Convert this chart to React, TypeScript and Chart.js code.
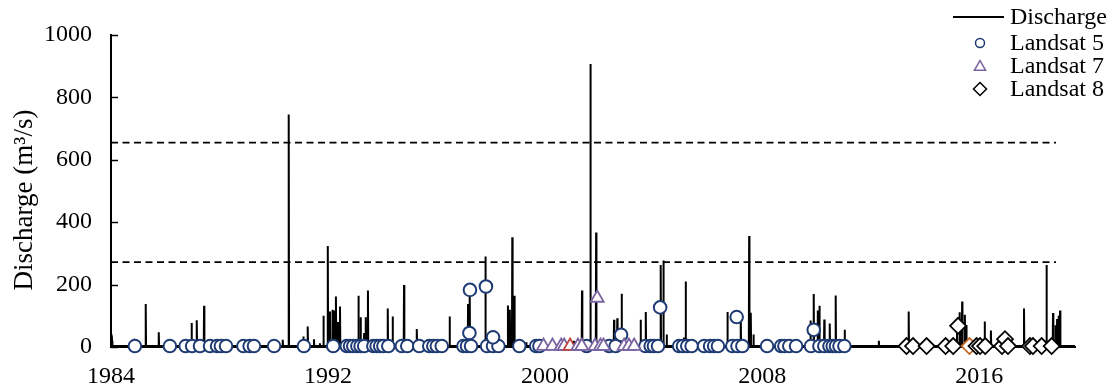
import React, { useEffect, useRef } from 'react';
import { Chart, registerables } from 'chart.js';

Chart.register(...registerables);

// ---------------- DATA ----------------
const xTickValues = [1984, 1992, 2000, 2008, 2016];
const yTickValues = [0, 200, 400, 600, 800, 1000];
const xMin = 1984;
const xMax = 2019.53;

// Discharge (m3/s): base flow plus flood peaks
const baseFlow = 3;
const spikeYears = [
  1984.04, 1984.85, 1985.28, 1985.76, 1986.97, 1987.16, 1987.43,
  1990.33, 1990.55, 1991.09, 1991.25, 1991.48, 1991.7, 1991.83, 1991.99,
  1992.07, 1992.16, 1992.23, 1992.29, 1992.37, 1992.44,
  1993.12, 1993.2, 1993.33, 1993.39, 1993.47, 1994.2, 1994.38, 1994.8, 1995.27,
  1996.48, 1997.16, 1997.22, 1997.8, 1998.63, 1998.7, 1998.79, 1998.87, 1999.3,
  2001.06, 2001.36, 2001.67, 2001.88, 2002.54, 2002.66, 2002.82,
  2003.52, 2003.71, 2004.26, 2004.36, 2004.48, 2005.12, 2005.18,
  2006.72, 2007.21, 2007.52, 2007.58, 2007.68,
  2009.78, 2009.9, 2010.05, 2010.11, 2010.29, 2010.49, 2010.71, 2011.04,
  2012.3, 2013.4, 2015.18, 2015.28, 2015.37, 2015.47, 2015.52,
  2016.2, 2016.43, 2017.65, 2018.48, 2018.72, 2018.81, 2018.87, 2018.93, 2018.98,
];
const spikeValues = [
  20, 10, 138, 47, 77, 86, 132,
  23, 745, 34, 66, 25, 12, 100, 324,
  114, 119, 117, 162, 80, 130,
  164, 95, 45, 95, 181, 123, 98, 199, 58,
  98, 138, 200, 290, 133, 119, 352, 164, 15,
  20, 181, 907, 367, 87, 92, 171,
  87, 112, 263, 277, 40, 30, 210,
  112, 107, 356, 110, 40,
  85, 170, 117, 132, 88, 75, 165, 55,
  20, 114, 60, 111, 146, 103, 70,
  82, 53, 123, 263, 109, 70, 90, 100, 117,
];

// Landsat 5 acquisitions
const landsat5Years = [
  1984.88, 1986.17, 1986.75, 1986.99, 1987.28, 1987.65, 1987.91, 1988.05, 1988.24,
  1988.88, 1989.11, 1989.27, 1990.01, 1991.11, 1992.19, 1992.69, 1992.81, 1992.93,
  1993.08, 1993.2, 1993.33, 1993.67, 1993.79, 1993.92, 1994.04, 1994.22, 1994.72,
  1994.92, 1995.36, 1995.73, 1995.88, 1996.01, 1996.19, 1996.99, 1997.12, 1997.27,
  1997.23, 1997.21, 1997.82, 1997.86, 1998.08, 1998.28, 1998.08, 1999.05, 1999.67,
  1999.79, 2001.53, 2002.36, 2002.6, 2002.8, 2003.7, 2003.89, 2004.01, 2004.16,
  2004.24, 2004.94, 2005.08, 2005.24, 2005.4, 2005.86, 2006.08, 2006.23, 2006.37,
  2006.9, 2007.06, 2007.09, 2007.27, 2008.18, 2008.7, 2008.82, 2009.0, 2009.25,
  2009.8, 2009.9, 2010.11, 2010.29, 2010.48, 2010.6, 2010.72, 2010.85, 2011.03,
];
const landsat5Values = [
  3, 3, 3, 3, 3, 3, 3, 3, 3,
  3, 3, 3, 3, 3, 3, 3, 3, 3,
  3, 3, 3, 3, 3, 3, 3, 3, 3,
  3, 3, 3, 3, 3, 3, 3, 3, 3,
  183, 45, 194, 3, 3, 3, 31, 3, 3,
  3, 3, 3, 3, 39, 3, 3, 3, 3,
  127, 3, 3, 3, 3, 3, 3, 3, 3,
  3, 96, 3, 3, 3, 3, 3, 3, 3,
  3, 55, 3, 3, 3, 3, 3, 3, 3,
];

// Landsat 7 acquisitions
const landsat7Years = [
  1999.94, 2000.27, 2000.59, 2000.7, 2000.92, 2001.21, 2001.35,
  2001.84, 2001.92, 2002.04, 2002.15, 2002.91, 2003.09, 2003.28,
];
const landsat7Values = [3, 3, 3, 3, 3, 3, 3, 3, 157, 3, 3, 3, 3, 3];
const landsat7HighlightYear = 2000.92;

// Landsat 8 acquisitions
const landsat8Years = [
  2013.32, 2013.56, 2014.06, 2014.76, 2015.04, 2015.22, 2015.64, 2015.9, 2016.03,
  2016.22, 2016.84, 2016.95, 2017.06, 2017.87, 2017.98, 2018.3, 2018.67,
];
const landsat8Values = [3, 3, 3, 3, 3, 68, 3, 3, 3, 3, 3, 25, 3, 3, 3, 3, 3];
const landsat8HighlightYear = 2015.64;

// Reference thresholds (dashed lines)
const thresholdValues = [655, 272];
const thresholdStartYear = 1984;
const thresholdEndYear = 2018.83;

const legendLabels = ['Discharge', 'Landsat 5', 'Landsat 7', 'Landsat 8'];
const yAxisTitle = 'Discharge (m³/s)';

// ---------------- STYLE ----------------
const FONT = '"Liberation Serif", "Times New Roman", serif';
const L5_COLOR = '#1F3B73';
const L7_COLOR = '#7B64A2';
const L7_HIGHLIGHT = '#C0443C';
const L8_COLOR = '#000000';
const L8_HIGHLIGHT = '#C0651E';

function buildDischarge() {
  const order = spikeYears.map((_, i) => i).sort((a, b) => spikeYears[a] - spikeYears[b]);
  const pts: { x: number; y: number }[] = [{ x: xMin, y: baseFlow }];
  const w = 0.012;
  for (const i of order) {
    pts.push({ x: spikeYears[i] - w, y: baseFlow });
    pts.push({ x: spikeYears[i], y: spikeValues[i] });
    pts.push({ x: spikeYears[i] + w, y: baseFlow });
  }
  pts.push({ x: xMax, y: baseFlow });
  return pts;
}

function toPoints(xs: number[], ys: number[]) {
  return xs.map((x, i) => ({ x, y: ys[i] }));
}

function drawMarker(ctx: CanvasRenderingContext2D, style: string, x: number, y: number, r: number, stroke: string) {
  ctx.save();
  ctx.beginPath();
  if (style === 'circle') {
    ctx.arc(x, y, r, 0, Math.PI * 2);
  } else if (style === 'triangle') {
    for (let k = 0; k < 3; k++) {
      const a = (k * 2 * Math.PI) / 3;
      const px = x + Math.sin(a) * r;
      const py = y - Math.cos(a) * r;
      if (k === 0) ctx.moveTo(px, py);
      else ctx.lineTo(px, py);
    }
    ctx.closePath();
  } else {
    ctx.moveTo(x, y - r);
    ctx.lineTo(x + r, y);
    ctx.lineTo(x, y + r);
    ctx.lineTo(x - r, y);
    ctx.closePath();
  }
  ctx.fillStyle = '#fff';
  ctx.fill();
  ctx.lineWidth = 1.5;
  ctx.strokeStyle = stroke;
  ctx.stroke();
  ctx.restore();
}

const decorPlugin = {
  id: 'decor',
  afterDraw(chart: any) {
    const ctx: CanvasRenderingContext2D = chart.ctx;
    const { left } = chart.chartArea;
    const yScale = chart.scales.y;
    ctx.save();
    // inward tick marks on y axis
    ctx.strokeStyle = '#000';
    ctx.lineWidth = 1.5;
    for (const v of yTickValues) {
      const py = Math.round(yScale.getPixelForValue(v)) + 0.5;
      ctx.beginPath();
      ctx.moveTo(left, py);
      ctx.lineTo(left + 7, py);
      ctx.stroke();
    }
    // y-axis title
    ctx.save();
    ctx.translate(25, 200);
    ctx.rotate(-Math.PI / 2);
    ctx.font = `27px ${FONT}`;
    ctx.fillStyle = '#000';
    ctx.textAlign = 'center';
    ctx.textBaseline = 'middle';
    ctx.fillText(yAxisTitle, 0, 0);
    ctx.restore();

    // legend
    const rowsY = [17, 43, 66, 89];
    const textX = 1010;
    const markX = 980;
    ctx.font = `24px ${FONT}`;
    ctx.fillStyle = '#000';
    ctx.textAlign = 'left';
    ctx.textBaseline = 'middle';
    ctx.strokeStyle = '#000';
    ctx.lineWidth = 2;
    ctx.beginPath();
    ctx.moveTo(953, rowsY[0]);
    ctx.lineTo(1004, rowsY[0]);
    ctx.stroke();
    drawMarker(ctx, 'circle', markX, rowsY[1], 4.5, L5_COLOR);
    drawMarker(ctx, 'triangle', markX, rowsY[2] + 1, 6.5, L7_COLOR);
    drawMarker(ctx, 'diamond', markX, rowsY[3], 6.5, L8_COLOR);
    legendLabels.forEach((t, i) => ctx.fillText(t, textX, rowsY[i] + 1));
    ctx.restore();
  },
};

export default function App() {
  const canvasRef = useRef<HTMLCanvasElement | null>(null);

  useEffect(() => {
    document.body.style.margin = '0';
    const canvas = canvasRef.current;
    if (!canvas) return;
    Chart.defaults.font.family = FONT;
    Chart.defaults.color = '#000';

    const thresholdDatasets = thresholdValues.map((v) => ({
      type: 'scatter' as const,
      label: 'threshold',
      data: [
        { x: thresholdStartYear, y: v },
        { x: thresholdEndYear, y: v },
      ],
      showLine: true,
      borderColor: '#000',
      borderWidth: 1.6,
      borderDash: [7, 4.5],
      pointRadius: 0,
      order: 10,
    }));

    const chart = new Chart(canvas, {
      type: 'scatter',
      data: {
        datasets: [
          {
            label: 'Landsat 8',
            data: toPoints(landsat8Years, landsat8Values),
            pointStyle: 'rectRot',
            pointRadius: 8,
            pointBorderWidth: 1.8,
            pointBackgroundColor: '#fff',
            pointBorderColor: landsat8Years.map((y) => (y === landsat8HighlightYear ? L8_HIGHLIGHT : L8_COLOR)),
            clip: false,
            order: 0,
          },
          {
            label: 'Landsat 7',
            data: toPoints(landsat7Years, landsat7Values),
            pointStyle: 'triangle',
            pointRadius: 7.5,
            pointBorderWidth: 1.8,
            pointBackgroundColor: '#fff',
            pointBorderColor: landsat7Years.map((y) => (y === landsat7HighlightYear ? L7_HIGHLIGHT : L7_COLOR)),
            clip: false,
            order: 1,
          },
          {
            label: 'Landsat 5',
            data: toPoints(landsat5Years, landsat5Values),
            pointStyle: 'circle',
            pointRadius: 6.3,
            pointBorderWidth: 2,
            pointBackgroundColor: '#fff',
            pointBorderColor: L5_COLOR,
            clip: false,
            order: 2,
          },
          {
            label: 'Discharge',
            data: buildDischarge(),
            showLine: true,
            borderColor: '#000',
            borderWidth: 2,
            pointRadius: 0,
            clip: false,
            order: 5,
          },
          ...thresholdDatasets,
        ] as any,
      },
      options: {
        animation: false,
        responsive: false,
        devicePixelRatio: 1,
        layout: { padding: { left: 0, right: 37, top: 35, bottom: 0 } },
        plugins: {
          legend: { display: false },
          tooltip: { enabled: false },
        },
        scales: {
          x: {
            type: 'linear',
            min: xMin,
            max: xMax,
            grid: { display: false, drawTicks: false },
            border: { display: true, color: '#000', width: 2 },
            afterBuildTicks: (scale: any) => {
              scale.ticks = xTickValues.map((v) => ({ value: v }));
            },
            afterFit: (scale: any) => {
              scale.height = 40;
            },
            ticks: {
              font: { size: 24, family: FONT },
              color: '#000',
              padding: 15,
              maxRotation: 0,
              autoSkip: false,
              callback: (v: any) => String(v),
            },
          },
          y: {
            type: 'linear',
            min: 0,
            max: 1000,
            grid: { display: false, drawTicks: false },
            border: { display: true, color: '#000', width: 2 },
            afterBuildTicks: (scale: any) => {
              scale.ticks = yTickValues.map((v) => ({ value: v }));
            },
            afterFit: (scale: any) => {
              scale.width = 111;
            },
            ticks: {
              font: { size: 24, family: FONT },
              color: '#000',
              padding: 19,
              callback: (v: any) => String(v),
            },
          },
        },
      },
      plugins: [decorPlugin],
    });

    return () => {
      chart.destroy();
    };
  }, []);

  return (
    <div style={{ width: 1112, height: 387, position: 'relative' }}>
      <canvas ref={canvasRef} width={1112} height={387} style={{ display: 'block' }} />
    </div>
  );
}
